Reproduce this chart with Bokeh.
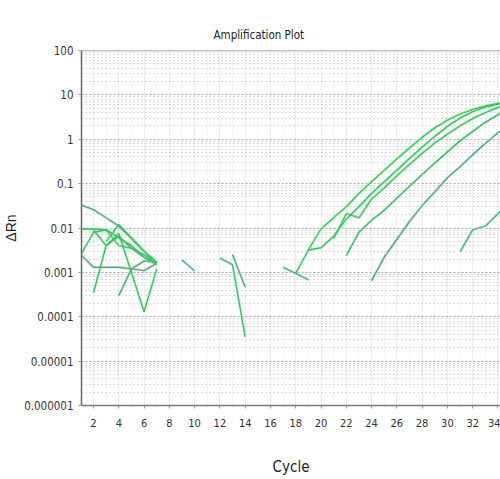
from bokeh.plotting import figure
from bokeh.models import FixedTicker, CustomJSTickFormatter, Range1d, Span
from bokeh.embed import file_html
from bokeh.resources import INLINE

# ---- data ----
title_text = "Amplification Plot"
x_label = "Cycle"
y_label = "\u0394Rn"
x_ticks = [2, 4, 6, 8, 10, 12, 14, 16, 18, 20, 22, 24, 26, 28, 30, 32, 34]
y_ticks = [1e-6, 1e-5, 1e-4, 1e-3, 1e-2, 1e-1, 1, 10, 100]
y_tick_labels = ["0.000001", "0.00001", "0.0001", "0.001", "0.01", "0.1", "1", "10", "100"]

# early baseline noise (cycles 1-7)
a_cyc = [1, 2, 3, 4, 5, 6, 7]
a_val = [0.033, 0.026, 0.017, 0.011, 0.0058, 0.003, 0.0016]
b_cyc = [1, 2, 3, 4, 5, 6, 7]
b_val = [0.0095, 0.0095, 0.0092, 0.006, 0.004, 0.0022, 0.0017]
c_cyc = [1, 2, 3, 4, 5, 6, 7]
c_val = [0.0025, 0.0013, 0.0013, 0.0013, 0.0012, 0.0011, 0.0016]
d_cyc = [1, 2, 3, 4, 5, 6, 7]
d_val = [0.0025, 0.008, 0.009, 0.004, 0.0035, 0.0025, 0.0017]
e_cyc = [2, 3, 4, 5, 6, 7]
e_val = [0.00035, 0.004, 0.0075, 0.001, 0.00013, 0.0012]
f_cyc = [4, 5, 6, 7]
f_val = [0.0003, 0.0012, 0.0018, 0.0017]
g_cyc = [3, 4, 5, 6, 7]
g_val = [0.005, 0.012, 0.006, 0.003, 0.0017]
h_cyc = [2, 3, 4, 5, 6, 7]
h_val = [0.009, 0.004, 0.0065, 0.0035, 0.0022, 0.0015]

# short noise fragments
s1_cyc = [9, 10]
s1_val = [0.0019, 0.00107]
s2_cyc = [12, 13, 14]
s2_val = [0.0021, 0.0015, 0.000035]
s3_cyc = [13, 14]
s3_val = [0.0025, 0.00047]
s4_cyc = [17, 18, 19]
s4_val = [0.0013, 0.00095, 0.00068]

# amplification curves
amp_cyc = [18, 19, 20, 21, 22, 23, 24, 25, 26, 27, 28, 29, 30, 31, 32, 33, 34, 35]
amp1_val = [0.00095, 0.0032, 0.0095, 0.017, 0.03, 0.06, 0.11, 0.2, 0.36, 0.64,
            1.1, 1.8, 2.7, 3.7, 4.7, 5.6, 6.4, 6.9]
amp2_cyc = [19, 20, 21, 22, 23, 24, 25, 26, 27, 28, 29, 30, 31, 32, 33, 34, 35]
amp2_val = [0.0032, 0.0036, 0.0065, 0.016, 0.03, 0.06, 0.11, 0.2, 0.37, 0.66,
            1.15, 1.95, 3.0, 4.2, 5.3, 6.2, 6.8]
amp3_cyc = [21, 22, 23, 24, 25, 26, 27, 28, 29, 30, 31, 32, 33, 34, 35]
amp3_val = [0.0058, 0.021, 0.017, 0.045, 0.08, 0.15, 0.27, 0.48, 0.82,
            1.3, 2.0, 2.9, 4.0, 5.2, 6.2]
amp4_cyc = [22, 23, 24, 25, 26, 27, 28, 29, 30, 31, 32, 33, 34, 35]
amp4_val = [0.0024, 0.008, 0.015, 0.025, 0.047, 0.087, 0.16, 0.29, 0.52,
            0.92, 1.5, 2.4, 3.6, 4.8]
amp5_cyc = [24, 25, 26, 27, 28, 29, 30, 31, 32, 33, 34, 35]
amp5_val = [0.00065, 0.0022, 0.0055, 0.014, 0.032, 0.065, 0.135, 0.24, 0.45, 0.8, 1.4, 2.2]
amp6_cyc = [31, 32, 33, 34, 35]
amp6_val = [0.0029, 0.0091, 0.011, 0.021, 0.042]

series = [
    (a_cyc, a_val, "#6a9e86"),
    (b_cyc, b_val, "#2fbf55"),
    (c_cyc, c_val, "#6a9e86"),
    (d_cyc, d_val, "#43c46a"),
    (e_cyc, e_val, "#32c55a"),
    (f_cyc, f_val, "#5aa882"),
    (g_cyc, g_val, "#3cc860"),
    (h_cyc, h_val, "#44bb70"),
    (s1_cyc, s1_val, "#5aa88a"),
    (s2_cyc, s2_val, "#3fbf7a"),
    (s3_cyc, s3_val, "#5aa88a"),
    (s4_cyc, s4_val, "#5aa88a"),
    (amp_cyc, amp1_val, "#3cc85a"),
    (amp2_cyc, amp2_val, "#35c060"),
    (amp3_cyc, amp3_val, "#3ec45c"),
    (amp4_cyc, amp4_val, "#40b86a"),
    (amp5_cyc, amp5_val, "#5aa482"),
    (amp6_cyc, amp6_val, "#4cb584"),
]

NARROW = "'Liberation Sans Narrow', 'DejaVu Sans Condensed', 'Liberation Sans', sans-serif"

p = figure(width=500, height=479, y_axis_type="log",
           x_range=Range1d(1.05, 34.2), y_range=Range1d(1e-6, 100),
           output_backend="svg", toolbar_location=None,
           min_border_left=77, min_border_right=0, min_border_top=50, min_border_bottom=74)
p.outline_line_color = None
p.background_fill_color = "white"

for cyc, val, col in series:
    p.line(cyc, val, line_color="#b8f0c8", line_width=3.2, line_alpha=0.6)
for cyc, val, col in series:
    p.line(cyc, val, line_color=col, line_width=1.4)

p.add_layout(Span(location=100, dimension="width", line_color="#8a8a8a", line_width=1.5))

p.title.text = title_text
p.title.align = "left"
p.title.offset = 132
p.title.text_font = NARROW
p.title.text_font_size = "11.5px"
p.title.text_font_style = "normal"
p.title.text_color = "#222222"
p.title.standoff = 17

# x axis
p.xaxis.ticker = FixedTicker(ticks=x_ticks, minor_ticks=list(range(1, 36)))
p.xaxis.axis_label = x_label
p.xaxis.axis_label_text_font = NARROW
p.xaxis.axis_label_text_font_size = "15px"
p.xaxis.axis_label_text_font_style = "normal"
p.xaxis.axis_label_text_color = "#222222"
p.xaxis.axis_label_standoff = 28
p.xaxis.major_label_text_font = NARROW
p.xaxis.major_label_text_font_size = "11px"
p.xaxis.major_label_text_color = "#333333"
p.xaxis.major_label_standoff = 9
p.xaxis.axis_line_color = "#777777"
p.xaxis.axis_line_width = 1.5
p.xaxis.major_tick_line_color = "#999999"
p.xaxis.major_tick_out = 3
p.xaxis.major_tick_in = 0
p.xaxis.minor_tick_line_color = None

# y axis
p.yaxis.ticker = FixedTicker(ticks=y_ticks,
                             minor_ticks=[m * 10.0 ** e for e in range(-6, 2) for m in range(2, 10)])
p.yaxis.formatter = CustomJSTickFormatter(args=dict(vals=y_ticks, labs=y_tick_labels), code="""
    let best = 0, bd = 1e9;
    for (let i = 0; i < vals.length; i++) {
        const d = Math.abs(Math.log10(vals[i]) - Math.log10(tick));
        if (d < bd) { bd = d; best = i; }
    }
    return labs[best];
""")
p.yaxis.axis_label = y_label
p.yaxis.axis_label_text_font = "'Liberation Sans', sans-serif"
p.yaxis.axis_label_text_font_size = "14px"
p.yaxis.axis_label_text_font_style = "normal"
p.yaxis.axis_label_text_color = "#222222"
p.yaxis.axis_label_standoff = 2
p.yaxis.major_label_text_font = NARROW
p.yaxis.major_label_text_font_size = "11.5px"
p.yaxis.major_label_text_color = "#333333"
p.yaxis.major_label_standoff = 4
p.yaxis.axis_line_color = "#666666"
p.yaxis.axis_line_width = 1.5
p.yaxis.major_tick_line_color = "#999999"
p.yaxis.major_tick_out = 3
p.yaxis.major_tick_in = 0
p.yaxis.minor_tick_line_color = None

# grids
p.ygrid.grid_line_color = "#a8a8a8"
p.ygrid.grid_line_dash = "2 2"
p.ygrid.minor_grid_line_color = "#bcbcbc"
p.ygrid.minor_grid_line_dash = "1 3"
p.xgrid.grid_line_color = "#d8d8d8"
p.xgrid.grid_line_dash = "1 2"
p.xgrid.minor_grid_line_color = "#e2e2e2"
p.xgrid.minor_grid_line_dash = "1 2"

open("out.html", "w").write(file_html(p, INLINE))
